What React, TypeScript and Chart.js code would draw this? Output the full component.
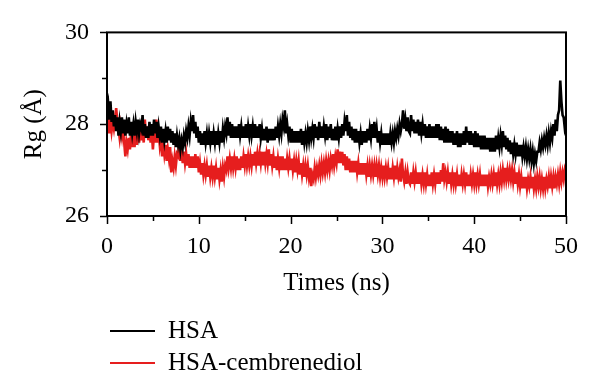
import React, { useEffect, useRef } from 'react';
import { Chart, registerables } from 'chart.js';

Chart.register(...registerables);

// ---- data ----
const TIME_STEP = 0.125; // ns between samples, first sample at 0 ns
const X_TICKS = [0, 10, 20, 30, 40, 50];
const Y_TICKS = [26, 28, 30];
const SERIES_LABELS = ['HSA', 'HSA-cembrenediol'];
const SERIES_COLORS = ['#000000', '#e61e1e'];

// Rg (Å) of HSA, one value every 0.125 ns (eight per row = 1 ns)
const HSA_RG = [
  28.3, 28.45, 28.1, 28.5, 28.05, 28.3, 27.95, 28.2,
  27.85, 28.15, 27.75, 28.05, 27.85, 28.15, 27.8, 28.1,
  27.75, 28.0, 27.8, 28.15, 27.75, 28.05, 27.8, 28.0,
  27.75, 28.05, 27.85, 28.1, 27.8, 28.0, 27.9, 28.2,
  27.75, 28.0, 27.7, 27.95, 27.7, 28.05, 27.75, 28.0,
  27.75, 28.1, 27.8, 28.05, 27.7, 27.95, 27.75, 27.95,
  27.6, 27.9, 27.65, 27.85, 27.6, 27.95, 27.65, 27.9,
  27.6, 27.85, 27.55, 27.8, 27.5, 27.75, 27.55, 27.7,
  27.45, 27.65, 27.5, 27.75, 27.6, 27.85, 27.7, 27.95,
  27.75, 28.05, 27.85, 28.2, 27.8, 28.05, 27.7, 27.95,
  27.6, 27.85, 27.55, 27.8, 27.55, 27.85, 27.6, 27.8,
  27.55, 27.8, 27.6, 27.85, 27.55, 27.8, 27.6, 27.85,
  27.55, 27.8, 27.6, 27.85, 27.6, 27.9, 27.7, 27.95,
  27.8, 28.15, 27.75, 28.05, 27.7, 28.0, 27.7, 27.95,
  27.7, 27.95, 27.7, 28.0, 27.75, 27.95, 27.7, 27.95,
  27.7, 28.0, 27.7, 27.95, 27.75, 28.0, 27.75, 27.95,
  27.7, 28.0, 27.7, 27.95, 27.7, 28.0, 27.7, 27.9,
  27.65, 27.9, 27.65, 27.95, 27.6, 27.9, 27.65, 27.9,
  27.65, 27.9, 27.65, 27.95, 27.7, 27.95, 27.75, 28.0,
  27.8, 28.1, 27.95, 28.3, 27.8, 28.0, 27.75, 27.95,
  27.6, 27.9, 27.6, 27.85, 27.6, 27.85, 27.6, 27.85,
  27.6, 27.9, 27.55, 27.85, 27.6, 27.8, 27.6, 27.85,
  27.65, 27.95, 27.7, 27.9, 27.7, 28.0, 27.7, 27.95,
  27.65, 28.05, 27.7, 27.95, 27.7, 27.95, 27.75, 28.0,
  27.65, 27.95, 27.7, 28.0, 27.65, 27.9, 27.65, 27.95,
  27.65, 27.9, 27.7, 27.95, 27.7, 28.0, 27.75, 28.05,
  27.85, 28.2, 27.75, 28.05, 27.7, 27.95, 27.65, 27.9,
  27.6, 27.9, 27.6, 27.85, 27.6, 27.8, 27.55, 27.85,
  27.6, 27.85, 27.6, 27.9, 27.65, 27.9, 27.7, 28.0,
  27.7, 28.05, 27.7, 27.9, 27.6, 27.85, 27.6, 27.8,
  27.55, 27.8, 27.55, 27.8, 27.55, 27.8, 27.55, 27.8,
  27.6, 27.8, 27.6, 27.85, 27.7, 27.9, 27.75, 28.0,
  27.85, 28.0, 28.3, 27.9, 28.1, 27.85, 28.15, 27.85,
  27.8, 28.2, 27.85, 28.1, 27.8, 28.05, 27.8, 28.1,
  27.75, 28.05, 27.8, 28.0, 27.75, 28.0, 27.7, 27.95,
  27.7, 28.0, 27.7, 27.95, 27.7, 27.95, 27.7, 28.0,
  27.7, 28.0, 27.65, 27.95, 27.65, 27.9, 27.6, 27.95,
  27.6, 27.9, 27.6, 27.85, 27.6, 27.85, 27.55, 27.8,
  27.55, 27.85, 27.5, 27.8, 27.5, 27.8, 27.55, 27.85,
  27.55, 27.95, 27.6, 27.85, 27.55, 27.85, 27.55, 27.8,
  27.5, 27.85, 27.5, 27.8, 27.5, 27.75, 27.45, 27.75,
  27.45, 27.75, 27.45, 27.7, 27.45, 27.7, 27.4, 27.7,
  27.4, 27.7, 27.4, 27.75, 27.45, 27.7, 27.5, 27.75,
  27.55, 27.85, 27.5, 27.75, 27.45, 27.7, 27.4, 27.65,
  27.35, 27.6, 27.35, 27.55, 27.35, 27.6, 27.3, 27.55,
  27.3, 27.55, 27.3, 27.5, 27.3, 27.5, 27.25, 27.45,
  27.25, 27.45, 27.2, 27.4, 27.15, 27.35, 27.2, 27.4,
  27.4, 27.6, 27.45, 27.65, 27.5, 27.7, 27.55, 27.75,
  27.55, 27.8, 27.6, 27.85, 27.7, 28.0, 27.75, 28.1,
  27.85, 28.2, 28.3, 28.95, 28.5, 28.2, 28.15, 27.9,
  28.0,
];

// Rg (Å) of HSA-cembrenediol, one value every 0.125 ns
const HSA_CEMB_RG = [
  27.95, 28.15, 27.8, 28.1, 27.85, 28.05, 27.9, 28.1,
  28.35, 28.05, 27.9, 27.7, 27.95, 27.75, 28.0, 27.6,
  27.3, 27.6, 27.45, 27.7, 27.45, 27.8, 27.5, 27.75,
  27.5, 27.85, 27.55, 27.8, 27.6, 27.95, 27.65, 27.9,
  27.6, 28.1, 27.7, 27.95, 27.65, 27.9, 27.6, 27.85,
  27.45, 27.8, 27.6, 28.1, 27.6, 27.85, 27.55, 27.75,
  27.3, 27.6, 27.35, 27.55, 27.2, 27.45, 27.25, 27.5,
  26.95, 27.2, 27.05, 27.3, 27.1, 27.35, 27.3, 27.6,
  27.2, 27.45, 27.15, 27.4, 27.15, 27.35, 27.1, 27.35,
  27.05, 27.3, 27.05, 27.3, 27.05, 27.35, 27.05, 27.3,
  26.95, 27.15, 26.9, 27.15, 26.9, 27.1, 26.9, 27.1,
  26.85, 27.1, 26.85, 27.05, 26.85, 27.1, 26.85, 27.05,
  26.8, 27.05, 26.8, 27.0, 26.75, 27.05, 26.85, 27.1,
  27.0, 27.3, 27.05, 27.25, 27.05, 27.3, 27.05, 27.25,
  27.05, 27.3, 27.0, 27.25, 27.0, 27.3, 27.05, 27.3,
  27.1, 27.35, 27.1, 27.3, 27.1, 27.3, 27.1, 27.35,
  27.1, 27.4, 27.15, 27.35, 27.1, 27.35, 27.15, 27.4,
  27.1, 27.4, 27.15, 27.35, 27.15, 27.45, 27.1, 27.35,
  27.1, 27.3, 27.05, 27.3, 27.0, 27.25, 27.05, 27.3,
  27.0, 27.3, 27.0, 27.25, 27.0, 27.25, 27.05, 27.25,
  27.0, 27.25, 27.0, 27.2, 26.95, 27.2, 27.0, 27.2,
  26.9, 27.15, 26.9, 27.1, 26.85, 27.1, 26.9, 27.1,
  26.85, 27.05, 26.65, 26.9, 26.8, 27.05, 26.85, 27.05,
  26.9, 27.1, 26.9, 27.15, 26.95, 27.15, 26.95, 27.2,
  27.0, 27.2, 27.0, 27.25, 27.1, 27.35, 27.1, 27.3,
  27.15, 27.45, 27.15, 27.4, 27.15, 27.4, 27.1, 27.35,
  27.0, 27.3, 27.0, 27.25, 26.95, 27.2, 26.95, 27.2,
  26.95, 27.2, 26.95, 27.15, 26.9, 27.15, 26.9, 27.15,
  26.9, 27.15, 26.9, 27.1, 26.85, 27.1, 26.9, 27.1,
  26.9, 27.1, 26.85, 27.1, 26.9, 27.1, 26.85, 27.05,
  26.85, 27.1, 26.85, 27.05, 26.85, 27.05, 26.8, 27.05,
  26.8, 27.05, 26.85, 27.1, 26.8, 27.05, 26.85, 27.0,
  26.75, 27.25, 26.9, 26.75, 26.95, 26.7, 26.95, 26.75,
  26.7, 26.95, 26.7, 26.95, 26.75, 26.95, 26.7, 26.95,
  26.7, 26.95, 26.7, 26.9, 26.7, 26.95, 26.7, 26.9,
  26.65, 26.9, 26.65, 26.95, 26.7, 26.9, 26.7, 26.95,
  26.7, 26.95, 26.7, 27.0, 26.75, 27.15, 26.8, 26.95,
  26.75, 26.95, 26.7, 26.95, 26.7, 26.9, 26.7, 26.95,
  26.7, 26.9, 26.65, 26.9, 26.65, 26.9, 26.7, 26.9,
  26.7, 26.95, 26.65, 26.9, 26.65, 26.9, 26.7, 26.9,
  26.7, 26.95, 26.7, 26.9, 26.7, 26.9, 26.65, 26.9,
  26.65, 26.9, 26.65, 26.9, 26.65, 26.85, 26.7, 26.9,
  26.7, 26.9, 26.65, 26.95, 26.7, 26.9, 26.7, 26.95,
  26.75, 27.0, 26.8, 27.05, 26.8, 27.0, 26.8, 27.0,
  26.8, 27.0, 26.75, 26.95, 26.7, 26.95, 26.7, 26.9,
  26.65, 26.85, 26.6, 26.85, 26.6, 26.85, 26.6, 26.8,
  26.65, 26.85, 26.6, 26.85, 26.6, 26.8, 26.6, 26.85,
  26.65, 26.85, 26.6, 26.8, 26.6, 26.85, 26.6, 26.8,
  26.65, 26.85, 26.6, 26.85, 26.65, 26.85, 26.6, 26.85,
  26.7, 26.9, 26.7, 26.95, 26.75, 26.95, 26.8, 27.0,
  26.9,
];

const FONT = "'Liberation Serif', 'Times New Roman', serif";

const toPoints = (vals: number[]) => vals.map((v, i) => ({ x: i * TIME_STEP, y: v }));

// draws the frame, outward tick marks (major + minor) and the stacked legend
const framePlugin = {
  id: 'frameAndTicks',
  afterDraw(chart: any) {
    const { ctx, chartArea, scales } = chart;
    const { left, right, top, bottom } = chartArea;
    const xs = scales.x;
    const ys = scales.y;
    ctx.save();
    ctx.strokeStyle = '#000';
    ctx.lineWidth = 2;
    ctx.strokeRect(left, top, right - left, bottom - top);
    ctx.lineWidth = 1.5;
    ctx.beginPath();
    for (let v = 26; v <= 30; v += 1) {
      const y = Math.round(ys.getPixelForValue(v)) + 0.5;
      const len = v % 2 === 0 ? 7 : 5;
      ctx.moveTo(left - len, y);
      ctx.lineTo(left, y);
    }
    for (let t = 0; t <= 50; t += 5) {
      const x = Math.round(xs.getPixelForValue(t)) + 0.5;
      const len = t % 10 === 0 ? 8 : 5;
      ctx.moveTo(x, bottom);
      ctx.lineTo(x, bottom + len);
    }
    ctx.stroke();

    // legend (stacked, below the chart)
    const rows = [331, 363];
    ctx.font = `25px ${FONT}`;
    ctx.textBaseline = 'middle';
    ctx.textAlign = 'left';
    chart.data.datasets.forEach((ds: any, i: number) => {
      const y = rows[i];
      ctx.strokeStyle = ds.borderColor;
      ctx.lineWidth = 2;
      ctx.beginPath();
      ctx.moveTo(110, y);
      ctx.lineTo(155, y);
      ctx.stroke();
      ctx.fillStyle = '#000';
      ctx.fillText(ds.label, 168, y);
    });
    ctx.restore();
  },
};

export default function App() {
  const canvasRef = useRef<HTMLCanvasElement | null>(null);

  useEffect(() => {
    if (!canvasRef.current) return;
    const chart = new Chart(canvasRef.current, {
      type: 'line',
      data: {
        datasets: [
          {
            label: SERIES_LABELS[0],
            data: toPoints(HSA_RG),
            borderColor: SERIES_COLORS[0],
            borderWidth: 2.6,
            pointRadius: 0,
            tension: 0,
          },
          {
            label: SERIES_LABELS[1],
            data: toPoints(HSA_CEMB_RG),
            borderColor: SERIES_COLORS[1],
            borderWidth: 2.6,
            pointRadius: 0,
            tension: 0,
          },
        ],
      },
      options: {
        responsive: false,
        animation: false,
        layout: { padding: { left: 0, top: 31, right: 34, bottom: 91 } },
        plugins: { legend: { display: false }, tooltip: { enabled: false } },
        scales: {
          x: {
            type: 'linear',
            min: 0,
            max: 50,
            afterBuildTicks: (s: any) => { s.ticks = X_TICKS.map((v) => ({ value: v })); },
            afterFit: (s: any) => { s.height = 85; },
            grid: { display: false, drawTicks: false },
            border: { display: false },
            ticks: { color: '#000', font: { family: FONT, size: 24 }, padding: 16, maxRotation: 0 },
            title: {
              display: true,
              text: 'Times (ns)',
              color: '#000',
              font: { family: FONT, size: 25 },
              padding: { top: 0, bottom: 3 },
            },
          },
          y: {
            type: 'linear',
            min: 26,
            max: 30,
            afterBuildTicks: (s: any) => { s.ticks = Y_TICKS.map((v) => ({ value: v })); },
            afterFit: (s: any) => { s.width = 107; },
            grid: { display: false, drawTicks: false },
            border: { display: false },
            ticks: { color: '#000', font: { family: FONT, size: 24 }, padding: 18 },
            title: {
              display: true,
              text: 'Rg (Å)',
              color: '#000',
              font: { family: FONT, size: 25 },
              padding: { top: 19, bottom: 0 },
            },
          },
        },
      },
      plugins: [framePlugin],
    });
    return () => chart.destroy();
  }, []);

  return (
    <div style={{ position: 'absolute', left: 0, top: 0, width: 600, height: 392, background: '#fff' }}>
      <canvas ref={canvasRef} width={600} height={392} />
    </div>
  );
}
